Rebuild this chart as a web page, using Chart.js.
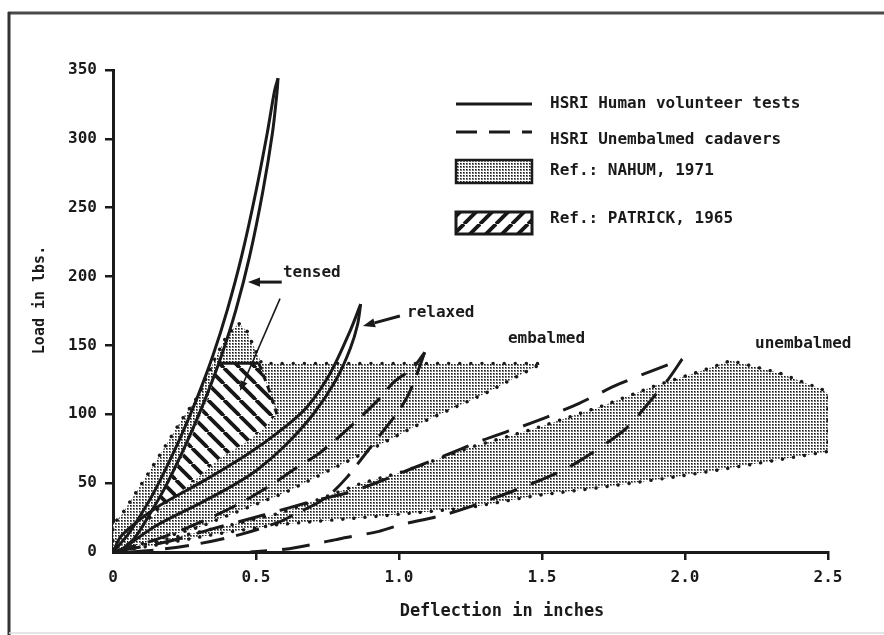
<!DOCTYPE html>
<html>
<head>
<meta charset="utf-8">
<script src="https://cdn.jsdelivr.net/npm/chart.js@4/dist/chart.umd.min.js"></script>
<style>
  html, body { margin: 0; padding: 0; background: #ffffff; }
  #wrap { width: 884px; height: 635px; position: relative; }
</style>
</head>
<body>
<div id="wrap"><canvas id="chart" width="884" height="635"></canvas></div>
<script>
// Load (lbs.) versus deflection (inches): each point is [deflection, load]

// HSRI human volunteer tests (solid loops)
const tensedLoading   = [[0,0],[0.05,12],[0.1,28],[0.15,46],[0.2,67],[0.25,90],[0.3,115],[0.35,143],[0.4,176],[0.45,215],[0.5,262],[0.54,305],[0.565,335],[0.577,344]];
const tensedUnloading = [[0.02,0],[0.075,10],[0.13,28],[0.18,46],[0.23,67],[0.28,90],[0.33,115],[0.38,143],[0.43,176],[0.478,215],[0.524,262],[0.558,305],[0.574,335],[0.577,344]];
const relaxedLoading   = [[0,0],[0.03,12],[0.15,32],[0.32,52],[0.47,71],[0.584,88],[0.677,105],[0.76,130],[0.83,161],[0.866,180]];
const relaxedUnloading = [[0.02,0],[0.15,19],[0.3,35],[0.4,46],[0.5,59],[0.6,77],[0.7,100],[0.78,125],[0.83,148],[0.855,165],[0.866,180]];

// HSRI unembalmed cadavers (dashed loops)
const cadaverALoading   = [[0,0],[0.15,9],[0.31,22],[0.45,36],[0.57,51],[0.64,61],[0.71,70],[0.77,80],[0.83,91],[0.93,111],[0.98,123],[1.05,134],[1.09,145]];
const cadaverAUnloading = [[1.09,145],[1.06,128],[1.03,113],[0.99,100],[0.93,84],[0.874,69],[0.817,54],[0.76,42],[0.71,35],[0.64,28],[0.584,22],[0.45,13],[0.3,6],[0.15,1.5],[0.06,0]];
const cadaverBLoading   = [[0,0],[0.2,8],[0.35,17],[0.53,27],[0.7,37],[0.82,43],[0.93,51],[1.05,61],[1.22,75],[1.29,81],[1.48,95],[1.63,108],[1.77,122],[1.99,140]];
const cadaverBUnloading = [[1.99,140],[1.94,125],[1.88,110],[1.81,93],[1.76,84],[1.63,66],[1.57,59],[1.42,46],[1.25,33],[1.14,26],[1.01,20],[0.93,15],[0.79,9.5],[0.71,6],[0.6,2],[0.48,0]];

// Ref.: NAHUM, 1971 (stippled corridors)
const nahumEmbalmed = [[0,0],[0,20],[0.03,27],[0.12,56],[0.24,96],[0.3,114],[0.36,142],[0.4,158],[0.44,166],[0.47,160],[0.49,150],[0.52,137],[1.5,137],[1.3,115],[1.1,96],[0.85,69],[0.6,43],[0.3,18],[0,0]];
const nahumUnembalmed = [[0,0],[0.2,10],[0.4,19],[0.58,28],[0.73,39],[0.87,50],[1.01,58],[1.25,76],[1.48,90],[1.71,106],[1.9,121],[2.05,131],[2.16,139],[2.33,130],[2.48,118],[2.5,115],[2.5,73],[2.13,60],[1.95,54],[1.71,47],[1.48,41],[1.24,32],[0.93,26],[0.58,20],[0.36,13],[0.15,5],[0,0]];

// Ref.: PATRICK, 1965 (hatched corridor) and its drawn edges
const patrickRegion = [[0.03,3],[0.085,12],[0.14,30],[0.19,48],[0.24,68],[0.29,91],[0.34,116],[0.37,137],[0.51,137],[0.545,118],[0.573,100],[0.524,89],[0.468,80],[0.374,68],[0.28,51],[0.164,31],[0.077,12],[0.03,3]];
const patrickTopEdge  = [[0.37,137],[0.51,137]];
const patrickSideEdge = [[0.51,137],[0.545,118],[0.573,100]];

// Axis ranges and ticks
const xRange = [0, 2.5];
const yRange = [0, 350];
const xStep = 0.5;
const yStep = 50;

// Curve labels and pointer arrows, in data units
const curveLabels = [
  { text: 'tensed',     x: 0.594, y: 202.6 },
  { text: 'relaxed',    x: 1.028, y: 173.6 },
  { text: 'embalmed',   x: 1.381, y: 155 },
  { text: 'unembalmed', x: 2.245, y: 151.4 }
];
const pointerArrows = [
  { from: [0.59, 196],   to: [0.472, 196],   width: 3,   head: 12 },
  { from: [1.003, 171.4], to: [0.874, 164.1], width: 3,   head: 12 },
  { from: [0.584, 184],  to: [0.444, 117],   width: 1.6, head: 10 }
];

const legendItems = [
  { text: 'HSRI Human volunteer tests', kind: 'solid' },
  { text: 'HSRI Unembalmed cadavers',   kind: 'dashed' },
  { text: 'Ref.: NAHUM, 1971',          kind: 'stipple' },
  { text: 'Ref.: PATRICK, 1965',        kind: 'hatch' }
];

const INK = '#1a1a1a';
const FONT = '"DejaVu Sans Mono", "Liberation Mono", monospace';

const toPts = arr => arr.map(([x, y]) => ({ x, y }));

// Fill patterns: dot screen and diagonal hatching
function stippleTile() {
  const c = document.createElement('canvas');
  c.width = 3; c.height = 3;
  const g = c.getContext('2d');
  g.fillStyle = '#ffffff'; g.fillRect(0, 0, 3, 3);
  g.fillStyle = '#7a7a7a'; g.fillRect(1, 1, 2, 2);
  g.fillStyle = '#151515'; g.fillRect(1, 1, 1, 1);
  return c;
}
function hatchTile(dir) {
  const s = 16;
  const c = document.createElement('canvas');
  c.width = s; c.height = s;
  const g = c.getContext('2d');
  g.fillStyle = '#ffffff'; g.fillRect(0, 0, s, s);
  g.strokeStyle = '#161616'; g.lineWidth = 3.8;
  for (const o of [-s, 0, s]) {
    g.beginPath();
    if (dir > 0) { g.moveTo(o, 0); g.lineTo(o + s, s); }
    else { g.moveTo(o, s); g.lineTo(o + s, 0); }
    g.stroke();
  }
  return c;
}

const canvas = document.getElementById('chart');
const ctx0 = canvas.getContext('2d');
const stipple = ctx0.createPattern(stippleTile(), 'repeat');
const hatchDown = ctx0.createPattern(hatchTile(1), 'repeat');
const hatchUp = ctx0.createPattern(hatchTile(-1), 'repeat');

function curve(data, dash, order) {
  return {
    data: toPts(data), showLine: true, fill: false, tension: 0.3,
    borderColor: INK, borderWidth: 3, borderDash: dash || [],
    pointRadius: 0, order: order
  };
}
function corridor(data, bg, dotted, order) {
  return {
    data: toPts(data), showLine: true, fill: 'shape', tension: 0,
    backgroundColor: bg,
    borderColor: dotted ? INK : 'rgba(0,0,0,0)',
    borderWidth: dotted ? 3.4 : 1,
    borderDash: dotted ? [0.1, 11] : [],
    borderCapStyle: 'round',
    pointRadius: 0, order: order
  };
}

function arrow(g, x1, y1, x2, y2, w, head) {
  const a = Math.atan2(y2 - y1, x2 - x1);
  const bx = x2 - head * Math.cos(a), by = y2 - head * Math.sin(a);
  g.strokeStyle = INK; g.fillStyle = INK; g.lineWidth = w; g.lineCap = 'butt';
  g.beginPath(); g.moveTo(x1, y1); g.lineTo(bx, by); g.stroke();
  const hw = head * 0.38;
  g.beginPath();
  g.moveTo(x2, y2);
  g.lineTo(bx + hw * Math.sin(a), by - hw * Math.cos(a));
  g.lineTo(bx - hw * Math.sin(a), by + hw * Math.cos(a));
  g.closePath(); g.fill();
}

// Frame, axis titles, curve labels, arrows and the key
const decorations = {
  id: 'decorations',
  afterDraw(chart) {
    const g = chart.ctx, area = chart.chartArea;
    const xs = chart.scales.x, ys = chart.scales.y;
    g.save();

    // page frame
    g.strokeStyle = '#4a4a4a'; g.lineWidth = 3;
    g.beginPath(); g.moveTo(8, 13); g.lineTo(884, 13); g.stroke();
    g.strokeStyle = '#333333';
    g.beginPath(); g.moveTo(9, 12); g.lineTo(9, 635); g.stroke();
    g.strokeStyle = '#dddddd'; g.lineWidth = 1.5;
    g.beginPath(); g.moveTo(9, 633); g.lineTo(884, 633); g.stroke();

    // axis titles
    g.fillStyle = INK;
    g.font = 'bold 17px ' + FONT;
    g.textAlign = 'center'; g.textBaseline = 'middle';
    g.fillText('Deflection in inches', area.left + 389, area.bottom + 60);
    g.save();
    g.translate(area.left - 73, area.top + 230);
    g.rotate(-Math.PI / 2);
    g.font = 'bold 15px ' + FONT;
    g.fillText('Load in lbs.', 0, 0);
    g.restore();

    // curve labels
    g.font = 'bold 16px ' + FONT;
    g.textAlign = 'left';
    for (const l of curveLabels) {
      g.fillText(l.text, xs.getPixelForValue(l.x), ys.getPixelForValue(l.y));
    }
    for (const a of pointerArrows) {
      arrow(g, xs.getPixelForValue(a.from[0]), ys.getPixelForValue(a.from[1]),
               xs.getPixelForValue(a.to[0]), ys.getPixelForValue(a.to[1]), a.width, a.head);
    }

    // key
    const kx = area.left + 343, kw = 76, tx = area.left + 437;
    const rows = [104, 140, 171, 222];
    legendItems.forEach((item, i) => {
      const y = rows[i];
      g.strokeStyle = INK; g.setLineDash([]);
      if (item.kind === 'solid') {
        g.lineWidth = 3;
        g.beginPath(); g.moveTo(kx, y); g.lineTo(kx + kw, y); g.stroke();
      } else if (item.kind === 'dashed') {
        g.lineWidth = 3; g.setLineDash([21, 12]);
        g.beginPath(); g.moveTo(kx, y - 8); g.lineTo(kx + kw, y - 8); g.stroke();
        g.setLineDash([]);
      } else if (item.kind === 'stipple') {
        g.fillStyle = stipple; g.fillRect(kx, y - 11, kw, 23);
        g.lineWidth = 2.5; g.strokeRect(kx, y - 11, kw, 23);
      } else {
        g.fillStyle = hatchUp; g.fillRect(kx, y - 10, kw, 22);
        g.lineWidth = 3; g.strokeRect(kx, y - 10, kw, 22);
      }
      g.fillStyle = INK;
      g.font = 'bold 16px ' + FONT;
      g.textAlign = 'left'; g.textBaseline = 'middle';
      g.fillText(item.text, tx, item.kind === 'hatch' ? y - 3 : y);
    });
    g.restore();
  }
};

const tickColor = c => (c.tick && c.tick.value === 0) ? 'rgba(0,0,0,0)' : INK;

new Chart(canvas, {
  type: 'scatter',
  data: {
    datasets: [
      curve(tensedLoading, null, 0),
      curve(tensedUnloading, null, 0),
      curve(relaxedLoading, null, 0),
      curve(relaxedUnloading, null, 0),
      curve(cadaverALoading, [24, 12], 1),
      curve(cadaverAUnloading, [24, 12], 1),
      curve(cadaverBLoading, [28, 15], 1),
      curve(cadaverBUnloading, [28, 15], 1),
      Object.assign(curve(patrickTopEdge, null, 2), { tension: 0 }),
      Object.assign(curve(patrickSideEdge, [7, 5], 2), { tension: 0 }),
      corridor(patrickRegion, hatchDown, false, 3),
      corridor(nahumEmbalmed, stipple, true, 5),
      corridor(nahumUnembalmed, stipple, true, 5)
    ]
  },
  options: {
    responsive: false,
    animation: false,
    devicePixelRatio: 1,
    layout: { padding: { left: 0, right: 56, top: 70, bottom: 0 } },
    plugins: { legend: { display: false }, tooltip: { enabled: false } },
    scales: {
      x: {
        type: 'linear', min: xRange[0], max: xRange[1],
        ticks: {
          stepSize: xStep, maxRotation: 0, padding: 8, color: INK,
          font: { family: FONT, size: 16, weight: 'bold' },
          callback: v => v === 0 ? '0' : Number(v).toFixed(1)
        },
        grid: { drawOnChartArea: false, drawTicks: true, tickLength: 8, lineWidth: 2.5, color: tickColor },
        border: { display: true, color: INK, width: 3 },
        afterFit: s => { s.height = 83; }
      },
      y: {
        type: 'linear', min: yRange[0], max: yRange[1],
        ticks: {
          stepSize: yStep, padding: 8, color: INK,
          font: { family: FONT, size: 16, weight: 'bold' }
        },
        grid: { drawOnChartArea: false, drawTicks: true, tickLength: 8, lineWidth: 2.5, color: tickColor },
        border: { display: true, color: INK, width: 3 },
        afterFit: s => { s.width = 113; }
      }
    }
  },
  plugins: [decorations]
});
</script>
</body>
</html>
